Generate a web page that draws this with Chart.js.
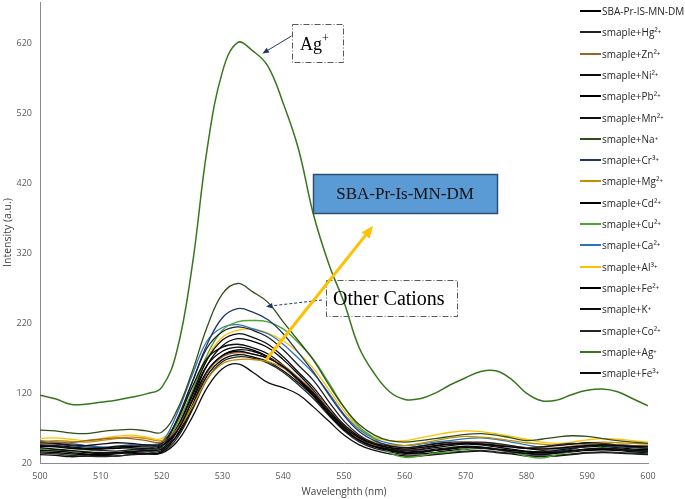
<!DOCTYPE html>
<html>
<head>
<meta charset="utf-8">
<script src="https://cdn.jsdelivr.net/npm/chart.js@4.4.1/dist/chart.umd.min.js"></script>
<style>
html, body { margin: 0; padding: 0; background: #fff; }
#wrap { position: relative; width: 685px; height: 499px; }
#legend { position: absolute; left: 580px; top: 0; font-family: "Open Sans", sans-serif; font-size: 10px; color: #262626; }
.item { position: absolute; left: 0; white-space: nowrap; height: 12px; line-height: 12px; }
.item .sw { position: absolute; left: 0; top: 5px; width: 21px; height: 2px; }
.item .tx { position: absolute; left: 22px; top: 0; }
</style>
</head>
<body>
<div id="wrap">
  <canvas id="chart" width="685" height="499"></canvas>
  <div id="legend"></div>
</div>
<script>
// wavelength grid (nm)
var wavelengths = [500, 502.5, 505, 507.5, 510, 512.5, 515, 517.5, 520, 522.5, 525, 527.5, 530, 532.5, 535, 537.5, 540,
  542.5, 545, 547.5, 550, 552.5, 555, 557.5, 560, 562.5, 565, 567.5, 570, 572.5, 575, 577.5, 580, 582.5, 585, 587.5,
  590, 592.5, 595, 597.5, 600];

var sbaDM = [44,43,41,40,41,43,44,43,45, 65,108,152,174,180,176,170,158,140,120,95,72,56,47,42,40,42,45,47,48,47,45,43,41,40,41,43,45,46,45,44,43];
var hg    = [45,44,42,40,38,37,39,40,43, 82,135,185,208,215,210,200,182,160,138,108,80,60,48,42,38,40,44,47,49,50,48,45,41,38,37,40,44,46,45,43,41];
var zn    = [48,50,49,52,54,56,55,52,50, 68,108,150,172,178,176,170,160,142,122,96,72,55,46,42,40,42,45,48,50,49,47,44,42,41,42,44,46,47,46,45,44];
var ni    = [42,40,38,36,35,34,36,38,40, 70,118,168,196,205,200,190,172,150,128,100,75,58,46,40,36,37,40,42,44,43,40,36,33,32,34,37,40,41,40,38,37];
var pb    = [38,37,35,33,32,33,35,36,38, 65,110,160,188,198,194,185,168,147,124,96,72,55,44,38,34,35,38,41,43,42,40,38,36,35,36,38,40,41,40,38,37];
var mn    = [50,48,46,45,47,49,48,46,48, 80,128,170,186,190,185,176,160,140,118,92,70,56,48,44,42,44,47,49,50,48,46,44,42,43,45,47,49,48,46,45,44];
var na    = [67,66,63,62,65,67,68,66,64, 95,150,215,262,277,265,250,222,195,167,132,100,75,60,52,50,52,55,58,61,62,60,56,52,54,57,59,58,55,52,50,48];
var cr    = [48,47,45,43,42,44,46,45,47, 80,135,190,228,241,236,225,205,178,150,118,88,65,52,45,42,44,48,50,49,47,45,43,41,43,46,48,47,45,43,42,41];
var mg    = [50,52,51,50,52,55,57,55,52, 66,100,140,162,168,168,165,156,140,120,96,74,58,50,46,45,48,52,56,58,57,55,52,49,47,46,47,49,50,49,48,47];
var cd    = [46,45,43,41,40,41,42,41,44, 70,115,160,180,186,182,172,157,138,116,90,68,53,45,40,38,39,42,45,47,46,43,40,37,36,38,41,43,44,42,40,39];
var cu    = [40,38,36,37,40,42,41,40,42, 75,122,175,210,222,224,222,212,192,168,135,100,72,55,35,28,30,34,36,40,42,40,36,30,27,32,37,40,42,40,38,36];
var ca    = [52,50,48,45,43,42,44,46,50, 90,145,195,214,218,212,205,190,170,148,120,90,68,55,48,45,47,50,52,55,56,54,50,46,42,40,42,45,47,46,44,43];
var al    = [55,56,54,52,55,58,60,57,55, 78,120,170,200,210,212,206,195,178,155,125,95,70,57,52,52,56,60,64,66,65,62,58,54,50,48,50,53,55,54,52,50];
var fe2   = [36,35,33,32,34,35,34,33,36, 60,102,150,174,182,180,172,158,140,118,92,70,54,44,38,34,33,35,38,40,41,39,36,34,33,34,36,38,39,38,36,35];
var k     = [40,39,37,35,34,35,37,38,40, 58,98,145,168,175,172,165,152,135,115,90,68,52,43,38,35,36,38,40,42,42,40,38,36,35,35,37,39,40,39,37,36];
var co    = [34,33,31,30,29,30,32,33,35, 55,95,140,165,172,170,163,150,132,112,88,66,50,41,36,32,31,33,35,37,38,36,34,31,30,31,33,35,36,35,34,33];
var ag    = [117,112,104,104,107,110,114,119,128, 180,300,470,580,622,610,588,535,470,375,305,250,185,148,122,111,112,120,132,142,151,152,140,120,109,110,118,124,126,122,112,102];
var fe3   = [32,31,29,30,31,30,32,33,34, 50,85,128,155,162,150,135,128,118,100,80,60,46,38,33,30,30,32,34,36,37,35,33,30,29,30,32,34,35,34,33,32];

var seriesNames = ['SBA-Pr-IS-MN-DM', 'smaple+Hg²⁺', 'smaple+Zn²⁺', 'smaple+Ni²⁺', 'smaple+Pb²⁺', 'smaple+Mn²⁺',
  'smaple+Na⁺', 'smaple+Cr³⁺', 'smaple+Mg²⁺', 'smaple+Cd²⁺', 'smaple+Cu²⁺', 'smaple+Ca²⁺', 'smaple+Al³⁺',
  'smaple+Fe²⁺', 'smaple+K⁺', 'smaple+Co²⁺', 'smaple+Ag⁺', 'smaple+Fe³⁺'];
var seriesValues = [sbaDM, hg, zn, ni, pb, mn, na, cr, mg, cd, cu, ca, al, fe2, k, co, ag, fe3];
var seriesColors = ['#000000', '#1f1f2e', '#a0602a', '#0d0d0d', '#000000', '#111111', '#2f4f1a', '#1f3864', '#bf9000',
  '#000000', '#4ea72e', '#2e75b6', '#ffc000', '#000000', '#0a0a0a', '#262626', '#38761d', '#0d0d0d'];

var yTicks = [20, 120, 220, 320, 420, 520, 620];

var datasets = seriesValues.map(function (vals, i) {
    return {
        label: seriesNames[i],
        data: vals.map(function (v, j) { return { x: wavelengths[j], y: v }; }),
        borderColor: seriesColors[i],
        borderWidth: i === 16 ? 1.5 : 1.3,
        pointRadius: 0,
        tension: 0.4,
        fill: false
    };
});

// legend as html, overlapping the plot like the original
var legendDiv = document.getElementById('legend');
seriesNames.forEach(function (name, i) {
    var item = document.createElement('div');
    item.className = 'item';
    item.style.top = (11 + i * 21.3 - 6) + 'px';
    var sw = document.createElement('span');
    sw.className = 'sw';
    sw.style.background = seriesColors[i];
    var tx = document.createElement('span');
    tx.className = 'tx';
    tx.textContent = name;
    item.appendChild(sw);
    item.appendChild(tx);
    legendDiv.appendChild(item);
});

function arrow(ctx, x1, y1, x2, y2, color, width, head, dash) {
    var a = Math.atan2(y2 - y1, x2 - x1);
    ctx.save();
    ctx.strokeStyle = color;
    ctx.fillStyle = color;
    ctx.lineWidth = width;
    ctx.setLineDash(dash || []);
    ctx.beginPath();
    ctx.moveTo(x1, y1);
    ctx.lineTo(x2 - Math.cos(a) * head * 0.8, y2 - Math.sin(a) * head * 0.8);
    ctx.stroke();
    ctx.setLineDash([]);
    ctx.beginPath();
    ctx.moveTo(x2, y2);
    ctx.lineTo(x2 - head * Math.cos(a - 0.4), y2 - head * Math.sin(a - 0.4));
    ctx.lineTo(x2 - head * Math.cos(a + 0.4), y2 - head * Math.sin(a + 0.4));
    ctx.closePath();
    ctx.fill();
    ctx.restore();
}

var notes = {
    id: 'notes',
    afterDatasetsDraw: function (chart) {
        var ctx = chart.ctx;
        ctx.save();
        // dash-dot boxes
        ctx.strokeStyle = '#595959';
        ctx.lineWidth = 1;
        ctx.setLineDash([6, 2, 1, 2]);
        ctx.strokeRect(292.5, 24.5, 51, 38);
        ctx.strokeRect(326.5, 280.5, 131, 36);
        ctx.setLineDash([]);
        ctx.fillStyle = '#000';
        ctx.font = '18px "Liberation Serif"';
        ctx.textBaseline = 'alphabetic';
        ctx.fillText('Ag', 300, 50);
        var w = ctx.measureText('Ag').width;
        ctx.font = '12px "Liberation Serif"';
        ctx.fillText('+', 300 + w, 42);
        ctx.font = '20px "Liberation Serif"';
        ctx.fillText('Other Cations', 333, 305);
        // SBA box
        ctx.fillStyle = '#5b9bd5';
        ctx.fillRect(313.5, 174.5, 184, 39);
        ctx.strokeStyle = '#2f4f6f';
        ctx.lineWidth = 1.5;
        ctx.strokeRect(313.5, 174.5, 184, 39);
        ctx.fillStyle = '#111';
        ctx.font = '17px "Liberation Serif"';
        ctx.textAlign = 'center';
        ctx.fillText('SBA-Pr-Is-MN-DM', 405, 199);
        ctx.restore();
        arrow(ctx, 291.5, 36, 262.5, 53.5, '#1f3864', 1, 7);
        arrow(ctx, 322, 300, 266, 306.5, '#1f3864', 1, 7, [3, 2]);
        arrow(ctx, 266, 360, 373, 226, '#ffc000', 3, 13);
    }
};

new Chart(document.getElementById('chart').getContext('2d'), {
    type: 'line',
    data: { datasets: datasets },
    plugins: [notes],
    options: {
        responsive: false,
        animation: false,
        layout: { padding: { top: 2, right: 37, left: 0, bottom: 0 } },
        plugins: { legend: { display: false }, tooltip: { enabled: false } },
        scales: {
            x: {
                type: 'linear',
                min: 500,
                max: 600,
                grid: { display: false, drawTicks: false },
                border: { display: true, color: '#8c8c8c' },
                ticks: { stepSize: 10, padding: 8, color: '#595959', font: { family: 'Open Sans', size: 9 } },
                title: { display: true, text: 'Wavelenghth (nm)', color: '#404040', font: { family: 'Open Sans', size: 10 }, padding: { top: 0, bottom: 1 } },
                afterFit: function (scale) { scale.height = 36; scale.paddingLeft = 0; scale.paddingRight = 0; }
            },
            y: {
                min: 20,
                max: 680,
                grid: { display: false, drawTicks: false },
                border: { display: true, color: '#8c8c8c' },
                ticks: { padding: 8, color: '#595959', font: { family: 'Open Sans', size: 9 } },
                afterBuildTicks: function (scale) { scale.ticks = yTicks.map(function (v) { return { value: v }; }); },
                title: { display: true, text: 'Intensity (a.u.)', color: '#404040', font: { family: 'Open Sans', size: 10.5 }, padding: { top: 2, bottom: 0 } },
                afterFit: function (scale) { scale.width = 40; scale.paddingTop = 0; scale.paddingBottom = 0; }
            }
        }
    }
});
</script>
</body>
</html>
